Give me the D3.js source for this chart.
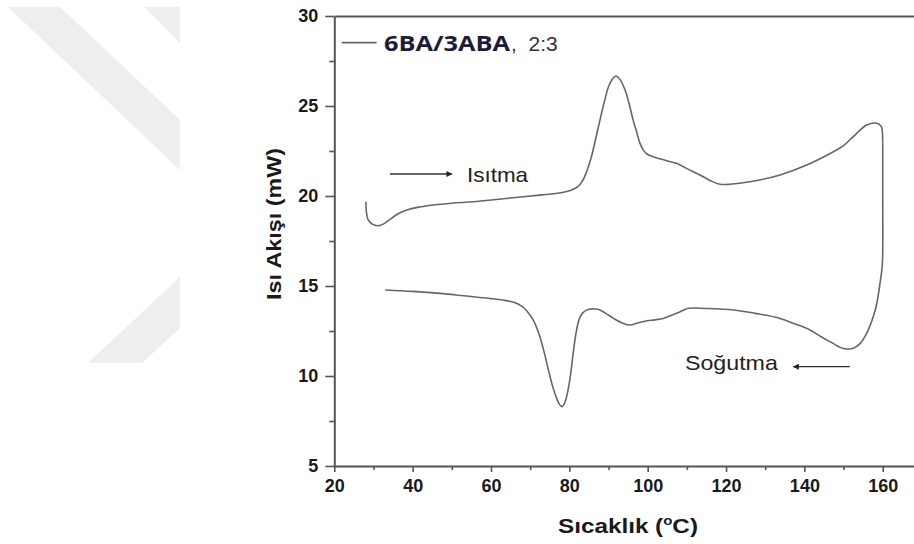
<!DOCTYPE html>
<html><head><meta charset="utf-8">
<script src="https://cdn.jsdelivr.net/npm/d3@7"></script>
<style>html,body{margin:0;padding:0;background:#fff;}svg{display:block;}</style>
</head><body><div id="chart"></div>
<script>
// ---- data ----
const heatingX = [28.07,28.2,28.6,29.6,31.2,32.6,34.2,36.2,38.5,41.5,45.3,50,55.5,62,68.25,73,76.5,78.8,80.6,82.2,83.4,84.5,85.6,86.7,87.8,89,90,91,91.9,93,94.2,95.3,96.3,97.2,98.0,98.9,99.9,101.4,104.9,107.5,110.4,112.3,114.2,116.3,118.5,121,126.1,133.8,140.6,147.4,150,152.5,155.9,158.5,159.5,159.8,160.0];
const heatingY = [19.68,19.1,18.7,18.45,18.35,18.45,18.7,19.0,19.22,19.38,19.5,19.6,19.68,19.82,19.96,20.06,20.14,20.22,20.33,20.52,20.85,21.4,22.15,23.15,24.2,25.3,26.07,26.5,26.67,26.45,25.9,25.1,24.2,23.55,22.95,22.55,22.32,22.18,21.96,21.8,21.48,21.28,21.07,20.82,20.65,20.65,20.79,21.17,21.72,22.46,22.8,23.3,23.94,24.04,23.9,23.76,22.9];
const coolingX = [160.0,160.0,160.0,159.85,159.3,158.5,157.6,155.9,154.2,152.5,150.8,149.1,147.4,144.5,141.4,137.5,133.8,127.5,121.9,115,110.4,108.8,107.4,105.6,104,101.8,99.8,97.5,95.5,93.5,91.3,89.5,87.8,86.5,85.3,84.4,83.5,82.6,81.8,81.0,80.2,79.4,78.7,78.06,77.4,76.6,75.7,74.7,73.6,72.3,70.8,69.2,68,66,63,59.75,53,47,40,33];
const coolingY = [22.9,20,17.0,16.07,15.15,14.04,13.3,12.37,11.8,11.54,11.5,11.59,11.8,12.15,12.56,12.9,13.2,13.48,13.67,13.75,13.76,13.62,13.48,13.33,13.2,13.12,13.07,12.95,12.83,12.95,13.2,13.45,13.67,13.72,13.72,13.66,13.52,13.2,12.5,11.3,9.9,8.95,8.45,8.3,8.45,8.85,9.45,10.3,11.3,12.3,13.1,13.6,13.85,14.08,14.22,14.31,14.46,14.59,14.7,14.78];
const xTicks = [20,40,60,80,100,120,140,160];
const xMinor = [30,50,70,90,110,130,150,170];
const yTicks = [5,10,15,20,25,30];
const yMinor = [7.5,12.5,17.5,22.5,27.5];
const seriesName = "6BA/3ABA";
const seriesRatio = ",  2:3";
const xTitle = "Sıcaklık (";
const yTitle = "Isı Akışı (mW)";
const heatLabel = "Isıtma";
const coolLabel = "Soğutma";

const W = 914, H = 544;
const svg = d3.select("#chart").append("svg").attr("width", W).attr("height", H);

// watermark (decoration)
const wm = svg.append("g").attr("fill", "#eeeeee");
[[[8,7],[60,7],[180,120],[180,170]],[[145,7],[180,7],[180,43]],[[180,277],[180,328],[142,363],[88,363]]]
  .forEach(p => wm.append("polygon").attr("points", p.map(q => q.join(",")).join(" ")));

const x = d3.scaleLinear().domain([20,170]).range([334.3, 921.9]);
const y = d3.scaleLinear().domain([5,30]).range([466,16]);

const axisColor = "#555";
function styleAxis(g, fs) {
  g.selectAll(".domain").attr("stroke", axisColor).attr("stroke-width", 2);
  g.selectAll(".tick line").attr("stroke", axisColor).attr("stroke-width", 1.6);
  g.selectAll("text").attr("fill", "#1a1a1a").style("font-family", "Arial, 'Liberation Sans', sans-serif")
    .style("font-weight", "bold").style("font-size", fs + "px");
}
// minor ticks
svg.append("g").attr("transform", `translate(0,${y(5)})`)
  .call(d3.axisBottom(x).tickValues(xMinor).tickSize(4).tickFormat(""))
  .call(g => { g.select(".domain").remove(); g.selectAll(".tick line").attr("stroke", axisColor).attr("stroke-width", 1.6); });
svg.append("g").attr("transform", `translate(${x(20)},0)`)
  .call(d3.axisLeft(y).tickValues(yMinor).tickSize(5).tickFormat(""))
  .call(g => { g.select(".domain").remove(); g.selectAll(".tick line").attr("stroke", axisColor).attr("stroke-width", 1.6); });
// major axes
svg.append("g").attr("transform", `translate(0,${y(5)})`)
  .call(d3.axisBottom(x).tickValues(xTicks).tickSize(6).tickSizeOuter(0).tickPadding(7).tickFormat(d3.format("d")))
  .call(g => styleAxis(g, 18));
svg.append("g").attr("transform", `translate(${x(20)},0)`)
  .call(d3.axisLeft(y).tickValues(yTicks).tickSize(9).tickSizeOuter(0).tickPadding(7).tickFormat(d3.format("d")))
  .call(g => styleAxis(g, 18));
svg.append("g").attr("transform", `translate(0,${y(30)})`)
  .call(d3.axisTop(x).tickValues([]).tickSizeOuter(0))
  .call(g => styleAxis(g, 18));

// curves
const line = d3.line().x(d => x(d[0])).y(d => y(d[1])).curve(d3.curveCatmullRom.alpha(0.5));
const heat = heatingX.map((v,i) => [v, heatingY[i]]);
const cool = coolingX.map((v,i) => [v, coolingY[i]]);
[heat, cool].forEach(data => svg.append("path").datum(data).attr("d", line)
  .attr("fill", "none").attr("stroke", "#666").attr("stroke-width", 1.6).attr("stroke-linejoin", "round"));

// arrows
const defs = svg.append("defs");
defs.append("marker").attr("id", "ah").attr("viewBox", "0 0 10 10").attr("refX", 9).attr("refY", 5)
  .attr("markerWidth", 8).attr("markerHeight", 6).attr("markerUnits", "userSpaceOnUse").attr("orient", "auto")
  .append("path").attr("d", "M0,0 L10,5 L0,10 Z").attr("fill", "#222");
svg.append("line").attr("x1", x(34.2)).attr("x2", x(50)).attr("y1", y(21.22)).attr("y2", y(21.22))
  .attr("stroke", "#333").attr("stroke-width", 1.4).attr("marker-end", "url(#ah)");
svg.append("line").attr("x1", x(151.6)).attr("x2", x(137.2)).attr("y1", y(10.52)).attr("y2", y(10.52))
  .attr("stroke", "#333").attr("stroke-width", 1.4).attr("marker-end", "url(#ah)");

const txtFont = "Arial, 'Liberation Sans', sans-serif";
svg.append("text").attr("x", x(53.9)).attr("y", y(20.78)).text(heatLabel)
  .style("font-family", txtFont).style("font-size", "21px").attr("fill", "#222")
  .attr("textLength", 61).attr("lengthAdjust", "spacingAndGlyphs");
svg.append("text").attr("x", x(109.5)).attr("y", y(10.31)).text(coolLabel)
  .style("font-family", txtFont).style("font-size", "21px").attr("fill", "#222")
  .attr("textLength", 93).attr("lengthAdjust", "spacingAndGlyphs");

// legend
svg.append("line").attr("x1", x(21.9)).attr("x2", x(30.8)).attr("y1", y(28.52)).attr("y2", y(28.52))
  .attr("stroke", "#666").attr("stroke-width", 1.6);
svg.append("text").attr("x", x(32.7)).attr("y", 51).text(seriesName)
  .style("font-family", "'Open Sans', Lato, sans-serif").style("font-weight", "bold").style("font-size", "22px")
  .attr("fill", "#1c1c38").attr("textLength", 126).attr("lengthAdjust", "spacingAndGlyphs");
svg.append("text").attr("x", 511).attr("y", 51).text(seriesRatio)
  .style("font-family", txtFont).style("font-size", "21px").attr("fill", "#333").style("white-space", "pre")
  .attr("xml:space", "preserve");

// axis titles
const xt = svg.append("text").attr("x", 628).attr("y", 533).attr("text-anchor", "middle")
  .style("font-family", txtFont).style("font-weight", "bold").style("font-size", "21px").attr("fill", "#1a1a1a")
  .attr("textLength", 140).attr("lengthAdjust", "spacingAndGlyphs");
xt.append("tspan").text(xTitle);
xt.append("tspan").text("o").attr("dy", -8).style("font-size", "13px");
xt.append("tspan").text("C)").attr("dy", 8);
svg.append("text").attr("transform", "translate(281,224) rotate(-90)").attr("text-anchor", "middle")
  .text(yTitle).style("font-family", txtFont).style("font-weight", "bold").style("font-size", "21px").attr("fill", "#1a1a1a")
  .attr("textLength", 152).attr("lengthAdjust", "spacingAndGlyphs");
</script></body></html>
